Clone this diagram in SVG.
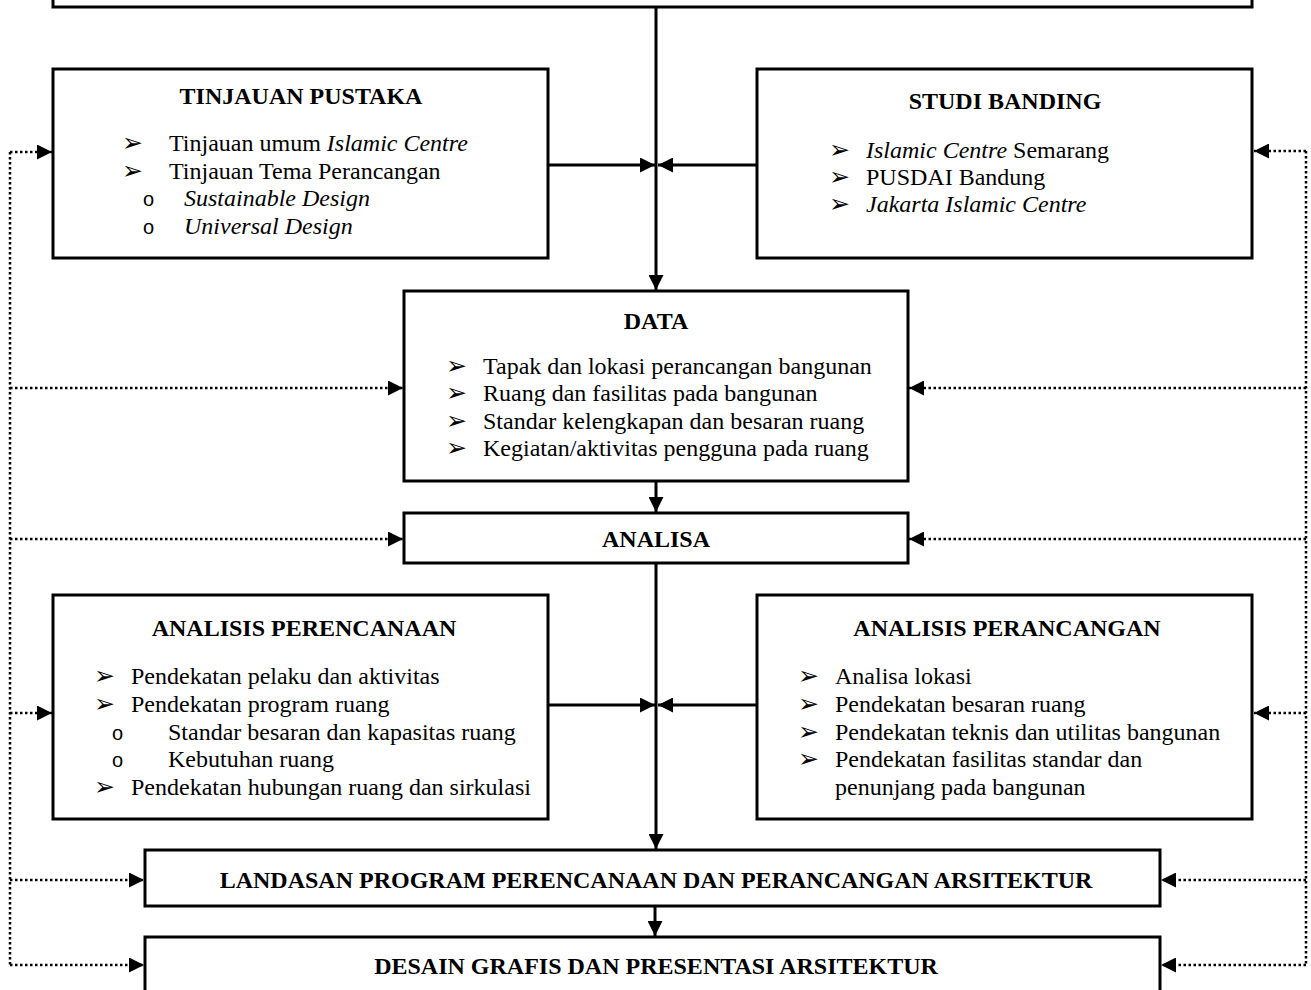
<svg xmlns="http://www.w3.org/2000/svg" width="1311" height="990" viewBox="0 0 1311 990">
<style>
  .box { fill: #fff; stroke: #000; stroke-width: 3; }
  .t { font-family: "Liberation Serif", "Times New Roman", serif; font-size: 24px; fill: #000; }
  .b { font-weight: bold; text-anchor: middle; }
  .i { font-style: italic; }
  .bul { font-family: "DejaVu Sans", sans-serif; font-size: 25px; fill: #000; }
  .sub { font-family: "Liberation Sans", Arial, sans-serif; font-size: 20px; fill: #000; }
  .solid { fill: none; stroke: #000; stroke-width: 3; }
  .dot { fill: none; stroke: #000; stroke-width: 2.5; stroke-dasharray: 2.5 2.5; }
</style>
<defs>
  <marker id="ah" markerUnits="userSpaceOnUse" markerWidth="15" markerHeight="15" refX="15" refY="7.5" orient="auto">
    <path d="M0,0 L15,7.5 L0,15 z" fill="#000"/>
  </marker>
</defs>

<rect fill="#fff" x="0" y="0" width="1311" height="990"/>

<g id="connectors">
  <path class="solid" d="M656,7 V290" marker-end="url(#ah)"/>
  <path class="solid" d="M549,165 H655" marker-end="url(#ah)"/>
  <path class="solid" d="M756,165 H658" marker-end="url(#ah)"/>
  <path class="solid" d="M656,481 V512" marker-end="url(#ah)"/>
  <path class="solid" d="M656,563 V849" marker-end="url(#ah)"/>
  <path class="solid" d="M549,705 H655" marker-end="url(#ah)"/>
  <path class="solid" d="M756,705 H658" marker-end="url(#ah)"/>
  <path class="solid" d="M655,906 V936" marker-end="url(#ah)"/>

  <path class="dot" d="M10,152 V966"/>
  <path class="dot" d="M10,152 H52" marker-end="url(#ah)"/>
  <path class="dot" d="M10,388 H403" marker-end="url(#ah)"/>
  <path class="dot" d="M10,539 H403" marker-end="url(#ah)"/>
  <path class="dot" d="M10,713 H52" marker-end="url(#ah)"/>
  <path class="dot" d="M10,880 H144" marker-end="url(#ah)"/>
  <path class="dot" d="M10,965 H144" marker-end="url(#ah)"/>

  <path class="dot" d="M1306,151 V966"/>
  <path class="dot" d="M1306,151 H1254" marker-end="url(#ah)"/>
  <path class="dot" d="M1306,388 H909" marker-end="url(#ah)"/>
  <path class="dot" d="M1306,539 H909" marker-end="url(#ah)"/>
  <path class="dot" d="M1306,713 H1254" marker-end="url(#ah)"/>
  <path class="dot" d="M1306,880 H1161" marker-end="url(#ah)"/>
  <path class="dot" d="M1306,965 H1161" marker-end="url(#ah)"/>
</g>

<g id="top">
  <rect class="box" x="53" y="-20" width="1199" height="27"/>
</g>

<g id="tinjauan">
  <rect class="box" x="53" y="69" width="495" height="189"/>
  <text class="t b" x="301" y="104">TINJAUAN PUSTAKA</text>
  <text class="bul" x="122" y="151">➢</text>
  <text class="t" x="169" y="151">Tinjauan umum <tspan class="i">Islamic Centre</tspan></text>
  <text class="bul" x="122" y="179">➢</text>
  <text class="t" x="169" y="179">Tinjauan Tema Perancangan</text>
  <text class="sub" x="143" y="206">o</text>
  <text class="t i" x="184" y="206">Sustainable Design</text>
  <text class="sub" x="143" y="234">o</text>
  <text class="t i" x="184" y="234">Universal Design</text>
</g>

<g id="studi">
  <rect class="box" x="757" y="69" width="495" height="189"/>
  <text class="t b" x="1005" y="109">STUDI BANDING</text>
  <text class="bul" x="829" y="158">➢</text>
  <text class="t" x="866" y="158"><tspan class="i">Islamic Centre</tspan> Semarang</text>
  <text class="bul" x="829" y="185">➢</text>
  <text class="t" x="866" y="185">PUSDAI Bandung</text>
  <text class="bul" x="829" y="212">➢</text>
  <text class="t i" x="866" y="212">Jakarta Islamic Centre</text>
</g>

<g id="data">
  <rect class="box" x="404" y="291" width="504" height="190"/>
  <text class="t b" x="656" y="329">DATA</text>
  <text class="bul" x="446" y="374">➢</text>
  <text class="t" x="483" y="374">Tapak dan lokasi perancangan bangunan</text>
  <text class="bul" x="446" y="401">➢</text>
  <text class="t" x="483" y="401">Ruang dan fasilitas pada bangunan</text>
  <text class="bul" x="446" y="429">➢</text>
  <text class="t" x="483" y="429">Standar kelengkapan dan besaran ruang</text>
  <text class="bul" x="446" y="456">➢</text>
  <text class="t" x="483" y="456">Kegiatan/aktivitas pengguna pada ruang</text>
</g>

<g id="analisa">
  <rect class="box" x="404" y="513" width="504" height="50"/>
  <text class="t b" x="656" y="547">ANALISA</text>
</g>

<g id="perencanaan">
  <rect class="box" x="53" y="595" width="495" height="224"/>
  <text class="t b" x="304" y="636">ANALISIS PERENCANAAN</text>
  <text class="bul" x="94" y="684">➢</text>
  <text class="t" x="131" y="684">Pendekatan pelaku dan aktivitas</text>
  <text class="bul" x="94" y="712">➢</text>
  <text class="t" x="131" y="712">Pendekatan program ruang</text>
  <text class="sub" x="112" y="740">o</text>
  <text class="t" x="168" y="740">Standar besaran dan kapasitas ruang</text>
  <text class="sub" x="112" y="767">o</text>
  <text class="t" x="168" y="767">Kebutuhan ruang</text>
  <text class="bul" x="94" y="795">➢</text>
  <text class="t" x="131" y="795">Pendekatan hubungan ruang dan sirkulasi</text>
</g>

<g id="perancangan">
  <rect class="box" x="757" y="595" width="495" height="224"/>
  <text class="t b" x="1007" y="636">ANALISIS PERANCANGAN</text>
  <text class="bul" x="798" y="684">➢</text>
  <text class="t" x="835" y="684">Analisa lokasi</text>
  <text class="bul" x="798" y="712">➢</text>
  <text class="t" x="835" y="712">Pendekatan besaran ruang</text>
  <text class="bul" x="798" y="740">➢</text>
  <text class="t" x="835" y="740">Pendekatan teknis dan utilitas bangunan</text>
  <text class="bul" x="798" y="767">➢</text>
  <text class="t" x="835" y="767">Pendekatan fasilitas standar dan</text>
  <text class="t" x="835" y="795">penunjang pada bangunan</text>
</g>

<g id="landasan">
  <rect class="box" x="145" y="850" width="1015" height="56"/>
  <text class="t b" x="656" y="888">LANDASAN PROGRAM PERENCANAAN DAN PERANCANGAN ARSITEKTUR</text>
</g>

<g id="desain">
  <rect class="box" x="145" y="937" width="1015" height="70"/>
  <text class="t b" x="656" y="974">DESAIN GRAFIS DAN PRESENTASI ARSITEKTUR</text>
</g>
</svg>
